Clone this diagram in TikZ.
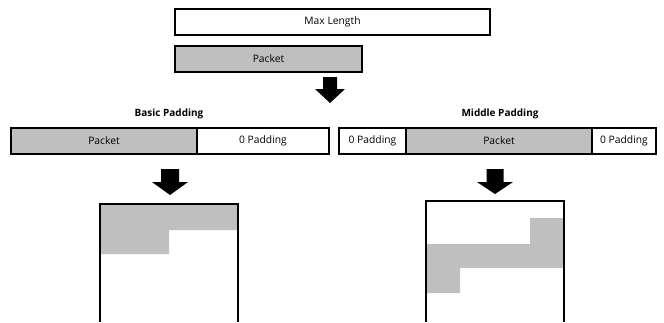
\documentclass[tikz,border=0pt]{standalone}
\usepackage{fontspec}
\setmainfont{Open Sans}
\definecolor{packetgray}{RGB}{191,191,191}
\tikzset{
  cell/.style={draw=black, line width=1.2pt, minimum height=26pt, inner sep=0pt,
    outer sep=0pt, anchor=north west, font=\fontsize{10.3}{12}\selectfont},
  packetcell/.style={cell, fill=packetgray},
  padcell/.style={cell, fill=white},
  heading/.style={font=\bfseries\fontsize{10}{12}\selectfont, inner sep=0pt},
  frame/.style={draw=black, line width=1.2pt},
  pics/blockarrow/.style args={#1,#2,#3,#4}{code={
    \fill[black] (-#1,0) -- (#1,0) -- (#1,#3) -- (#2,#3) -- (0,#4)
      -- (-#2,#3) -- (-#1,#3) -- cycle;}}
}
\begin{document}
\begin{tikzpicture}[x=1pt, y=-1pt]
  \useasboundingbox (0,0) rectangle (664,322);

  % input: maximum length and the packet to be padded
  \node[padcell, minimum width=315pt] (maxlen) at (175,9) {Max Length};
  \node[packetcell, minimum width=187pt] (packet) at (175,46) {Packet};
  \pic at (330,77) {blockarrow={7,15,12,26}};

  % headings of the two schemes
  \node[heading] (basic) at (169,114) {Basic Padding};
  \node[heading] (middle) at (500,114) {Middle Padding};

  % basic padding: packet followed by zeros
  \node[packetcell, minimum width=186pt] (bpacket) at (11,128) {Packet};
  \node[padcell, minimum width=132pt] (bpad) at (197,128) {0 Padding};

  % middle padding: zeros on both sides of the packet
  \node[padcell, minimum width=67pt] (mpadl) at (339,128) {0 Padding};
  \node[packetcell, minimum width=186pt] (mpacket) at (406,128) {Packet};
  \node[padcell, minimum width=64pt] (mpadr) at (592,128) {0 Padding};

  \pic at (170,169) {blockarrow={9,18,13,26}};
  \pic at (495,169) {blockarrow={8.5,18,13,25}};

  % resulting layout, basic padding
  \fill[packetgray] (100,204) -- (238,204) -- (238,230) -- (169,230)
    -- (169,254) -- (100,254) -- cycle;
  \draw[frame] (100,322) -- (100,204) -- (238,204) -- (238,322);

  % resulting layout, middle padding
  \fill[packetgray] (426,244) -- (530,244) -- (530,218) -- (564,218)
    -- (564,268) -- (460,268) -- (460,293) -- (426,293) -- cycle;
  \draw[frame] (426,322) -- (426,201) -- (564,201) -- (564,322);
\end{tikzpicture}
\end{document}
